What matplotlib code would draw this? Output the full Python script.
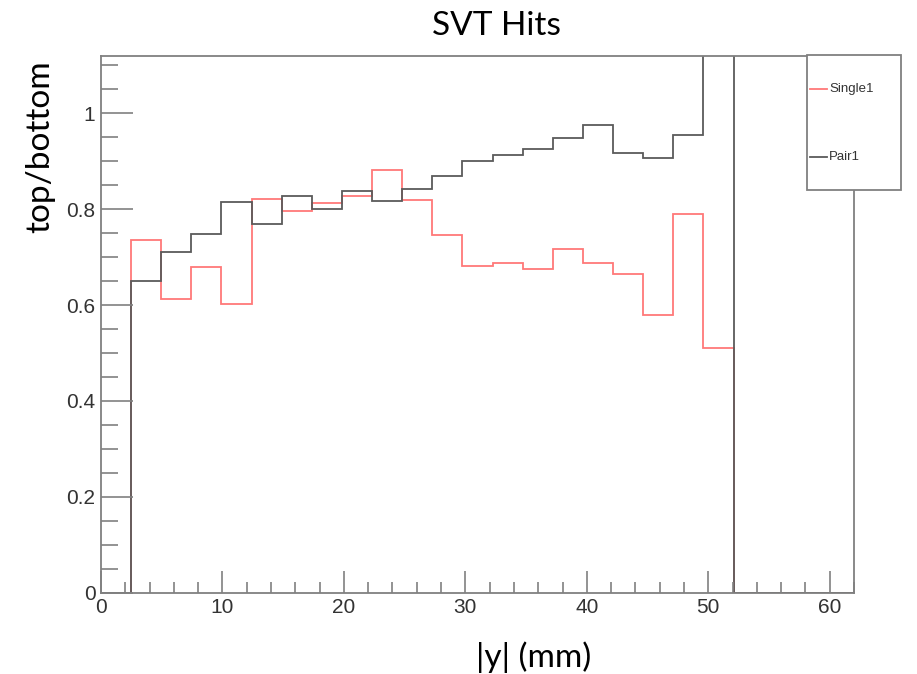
import numpy as np
import matplotlib
matplotlib.use("Agg")
import matplotlib.pyplot as plt
from matplotlib.ticker import MultipleLocator
from matplotlib.lines import Line2D
from matplotlib.patches import Rectangle

# histogram: 25 bins over 0..62 mm, empty bins are 0
bin_edges = np.linspace(0, 62, 26)
single1 = [0, 0.736, 0.613, 0.679, 0.603, 0.822, 0.796, 0.813, 0.827, 0.882,
           0.818, 0.745, 0.681, 0.688, 0.676, 0.716, 0.688, 0.665, 0.580, 0.790,
           0.510, 0, 0, 0, 0]
pair1 = [0, 0.651, 0.710, 0.748, 0.815, 0.768, 0.828, 0.801, 0.838, 0.816,
         0.842, 0.869, 0.901, 0.913, 0.926, 0.949, 0.975, 0.917, 0.906, 0.955,
         1.30, 0, 0, 0, 0]
labels = ["Single1", "Pair1"]

red = "#ff7878"
black = "#5a5a5a"
frame = "#808080"
label_font = "Lato"
plt.rcParams["font.family"] = ["Liberation Sans", "DejaVu Sans"]

fig = plt.figure(figsize=(9.17, 6.74), dpi=100)
ax = fig.add_axes([0.1101, 0.1206, 0.8212, 0.7968])

ax.stairs(single1, bin_edges, color=red, lw=1.3, baseline=0)
ax.stairs(pair1, bin_edges, color=black, lw=1.3, baseline=0)

ax.set_xlim(0, 62)
ax.set_ylim(0, 1.12)
ax.xaxis.set_major_locator(MultipleLocator(10))
ax.xaxis.set_minor_locator(MultipleLocator(2))
ax.yaxis.set_major_locator(MultipleLocator(0.2))
ax.yaxis.set_minor_locator(MultipleLocator(0.05))
ax.yaxis.set_major_formatter(plt.FuncFormatter(lambda v, p: f"{v:g}"))

ax.tick_params(axis="both", which="both", direction="in", color=frame,
               width=1.2, labelcolor="#333333", labelsize=15)
ax.tick_params(axis="x", which="major", length=16, pad=4)
ax.tick_params(axis="x", which="minor", length=8)
ax.tick_params(axis="y", which="major", length=23, pad=4)
ax.tick_params(axis="y", which="minor", length=12)
ax.tick_params(top=False, right=False)
for sp in ax.spines.values():
    sp.set_color(frame)
    sp.set_linewidth(1.3)

ax.set_xlabel("|y| (mm)", fontfamily=label_font, fontsize=24)
ax.xaxis.set_label_coords(0.574, -0.09)
ax.set_ylabel("top/bottom", fontfamily=label_font, fontsize=24)
ax.yaxis.set_label_coords(-0.061, 0.83)
fig.text(0.541, 0.962, "SVT Hits", ha="center", va="center",
         fontfamily=label_font, fontsize=24)

# legend box sticking out past the right edge, like the ROOT canvas
lx0, lx1, ly0, ly1 = 807 / 917, 901 / 917, 1 - 190 / 674, 1 - 55 / 674
fig.patches.append(Rectangle((lx0, ly0), lx1 - lx0, ly1 - ly0, transform=fig.transFigure,
                             facecolor="white", edgecolor=frame, lw=1.3, zorder=5))
for i, (name, col) in enumerate(zip(labels, [red, black])):
    yy = 1 - (89 + 68 * i) / 674
    fig.lines.append(Line2D([810 / 917, 827 / 917], [yy, yy], transform=fig.transFigure,
                            color=col, lw=1.3, zorder=6))
    fig.text(829 / 917, yy, name, ha="left", va="center", fontsize=9.5,
             color="#333333", zorder=6)

fig.savefig("out.png", dpi=100)
